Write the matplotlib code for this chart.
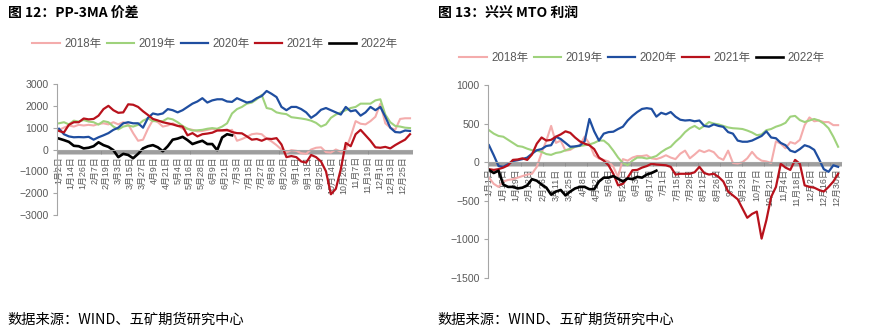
import numpy as np
import matplotlib
matplotlib.use("Agg")
import matplotlib.pyplot as plt
from matplotlib.ticker import MultipleLocator, FixedLocator

plt.rcParams['font.family'] = ['Liberation Sans', 'Noto Sans CJK SC']

# ---------------- data: chart 12 (PP-3MA spread), sampled every 5 trading days ----------------
step_l = 5
l_2018 = [900, 1000, 1100, 1050, 1130, 1100, 1130, 1100, 1170, 1200, 1150, 1250, 1150, 1250, 1150, 750,
          400, 450, 950, 1350, 1250, 1050, 1100, 1200, 1100, 950, 950, 900, 830, 850, 900, 950,
          880, 850, 850, 900, 400, 480, 580, 700, 730, 700, 500, 370, 200, 0, -130, -30,
          -60, -170, -200, 0, 80, 100, -120, -140, 0, -100, 0, 600, 1300, 1180, 1150, 1300,
          1500, 2100, 1200, 1000, 900, 1400, 1430, 1430]
l_2019 = [1200, 1250, 1150, 1320, 1280, 1350, 1280, 1250, 1140, 1300, 1250, 1050, 920, 1050, 1100, 1050,
          1130, 1320, 1430, 1300, 1300, 1300, 1430, 1380, 1250, 1080, 950, 870, 880, 900, 950, 980,
          950, 1050, 1200, 1650, 1850, 1950, 2100, 2150, 2300, 2500, 1900, 1850, 1700, 1650, 1620, 1480,
          1450, 1420, 1380, 1320, 1220, 1050, 1150, 1450, 1600, 1700, 1800, 1900, 1950, 2100, 2100, 2100,
          2250, 2300, 1600, 1250, 1080, 1050, 1000, 980]
l_2020 = [950, 700, 600, 560, 570, 560, 580, 450, 560, 650, 750, 900, 1000, 1200, 1250, 1200,
          1200, 1000, 1450, 1650, 1600, 1650, 1850, 1800, 1700, 1800, 1950, 2100, 2200, 2350, 2150, 2250,
          2300, 2300, 2200, 2180, 2350, 2250, 2150, 2200, 2350, 2450, 2680, 2550, 2400, 1950, 1800, 1950,
          1950, 1850, 1700, 1450, 1600, 1820, 1900, 1800, 1700, 1600, 1950, 1750, 1800, 1550, 1700, 1950,
          1800, 1950, 1500, 1000, 800, 780, 870, 850]
l_2021 = [850, 780, 1130, 1250, 1250, 1420, 1380, 1400, 1550, 1850, 2000, 1800, 1680, 1700, 2070, 2050,
          1950, 1750, 1580, 1400, 1330, 1250, 1200, 1150, 1080, 1050, 650, 750, 600, 700, 730, 770,
          870, 880, 900, 800, 750, 740, 600, 450, 480, 400, 500, 480, 520, 230, -350, -300,
          -350, -550, -600, -250, -350, -550, -1000, -2050, -1800, -900, 300, 150, 700, 900, 650, 400,
          100, 80, 120, 50, 200, 330, 450, 700]
l_2022 = [500, 430, 350, 170, 150, 50, 80, 150, 330, 200, 120, -30, -350, -200, -250, -400,
          -200, 50, 150, 200, 100, -80, 150, 450, 500, 580, 430, 250, 330, 400, 250, 250,
          -30, 550, 700, 650]
l_ticklabels = ['1月2日', '1月14日', '1月26日', '2月7日', '2月19日', '3月3日', '3月15日', '3月27日',
                '4月9日', '4月21日', '5月4日', '5月16日', '5月28日', '6月9日', '6月21日', '7月3日',
                '7月15日', '7月27日', '8月8日', '8月20日', '9月1日', '9月13日', '9月25日', '10月14日',
                '10月26日', '11月7日', '11月19日', '12月1日', '12月13日', '12月25日']
l_tick_every = 12

# ---------------- data: chart 13 (Xingxing MTO profit), sampled every 5 days ----------------
step_r = 5
r_2018 = [-200, -280, -320, -250, -230, -220, -200, -180, -160, -150, -60, 120, 280, 470, 250, 280,
          150, 160, 200, 220, 330, 240, 90, 47, 30, 10, -60, -190, 40, 20, 60, 80,
          80, 90, 50, 40, 60, 90, 60, 40, 110, 150, 50, 100, 155, 130, 155, 130,
          60, 30, 150, -10, -17, 0, 50, 134, 60, 20, 10, -10, 270, 240, 180, 260,
          240, 290, 480, 580, 530, 540, 520, 520, 480, 480]
r_2019 = [415, 370, 340, 330, 290, 250, 210, 200, 175, 155, 150, 134, 105, 95, 120, 130,
          155, 175, 200, 210, 220, 230, 250, 280, 280, 230, 150, 60, -10, -40, 20, 60,
          60, 47, 60, 80, 130, 170, 200, 265, 320, 390, 440, 470, 430, 470, 520, 500,
          490, 470, 450, 440, 436, 430, 410, 385, 350, 360, 415, 430, 460, 480, 510, 590,
          600, 545, 520, 540, 560, 540, 500, 440, 330, 200]
r_2020 = [220, 90, -50, -60, -25, 15, 26, 40, 60, 110, 155, 170, 210, 220, 330, 300,
          250, 200, 205, 215, 270, 560, 400, 280, 370, 390, 395, 430, 460, 540, 600, 650,
          690, 700, 690, 590, 640, 620, 650, 590, 550, 540, 545, 530, 540, 470, 460, 490,
          470, 458, 390, 370, 280, 265, 265, 280, 310, 340, 400, 320, 310, 250, 220, 150,
          130, 170, 220, 200, 160, 40, -90, -125, -40, -60]
r_2021 = [-90, -100, -90, -70, -40, 30, 35, 50, 30, 100, 240, 320, 280, 290, 330, 360,
          400, 380, 320, 270, 240, 220, 170, 60, 20, -40, -150, -300, -280, -200, -104, -100,
          -70, -50, -20, -30, -35, -40, -60, -160, -150, -150, -150, -130, -60, -140, -160, -150,
          -190, -250, -380, -430, -480, -600, -720, -670, -640, -990, -750, -450, -320, -20, -70, -100,
          30, -20, -300, -320, -330, -360, -380, -320, -250, -150]
r_2022 = [-100, -140, -110, -290, -320, -320, -340, -330, -300, -220, -240, -290, -330, -420, -380, -360,
          -430, -380, -340, -320, -320, -350, -350, -250, -200, -200, -180, -215, -250, -210, -220, -190,
          -200, -160, -140, -110]
r_ticklabels = ['1月1日', '1月15日', '1月29日', '2月12日', '2月26日', '3月11日', '3月25日', '4月8日',
                '4月22日', '5月6日', '5月20日', '6月3日', '6月17日', '7月1日', '7月15日', '7月29日',
                '8月12日', '8月26日', '9月9日', '9月23日', '10月7日', '10月21日', '11月4日', '11月18日',
                '12月2日', '12月16日', '12月30日']
r_tick_every = 14

years = ['2018年', '2019年', '2020年', '2021年', '2022年']
colors = ['#f4acac', '#9fd27c', '#1f4ea0', '#b8121c', '#000000']
widths = [1.5, 1.5, 1.6, 1.6, 1.9]

GRAY = '#595959'
AXC = '#a6a6a6'
TICKC = '#8c8c8c'

W, H = 872, 336
fig = plt.figure(figsize=(W / 100, H / 100), dpi=100)


def frac_box(x0, x1, ytop, ybot):
    return [x0 / W, 1 - ybot / H, (x1 - x0) / W, (ybot - ytop) / H]


def setup(ax, series, step, ticklabels, every, ylim, ystep, xlim):
    for vals, c, lw, lab in zip(series, colors, widths, years):
        x = np.arange(len(vals)) * step
        ax.plot(x, vals, color=c, lw=lw, label=lab, solid_joinstyle='round')
    ax.set_xlim(*xlim)
    ax.set_ylim(*ylim)
    ax.yaxis.set_major_locator(MultipleLocator(ystep))
    ax.spines['top'].set_visible(False)
    ax.spines['right'].set_visible(False)
    ax.spines['left'].set_color(AXC)
    ax.spines['left'].set_linewidth(0.8)
    ax.spines['bottom'].set_position(('data', 0))
    ax.spines['bottom'].set_color(AXC)
    ax.spines['bottom'].set_linewidth(0.8)
    pos = np.arange(len(ticklabels)) * every
    ax.xaxis.set_major_locator(FixedLocator(pos))
    ax.set_xticklabels(ticklabels, rotation=90, fontsize=6.4, color=GRAY)
    ax.xaxis.set_minor_locator(MultipleLocator(1))
    ax.tick_params(axis='x', which='both', direction='out', length=3.2, width=0.6,
                   color=TICKC, pad=1.5)
    ax.tick_params(axis='y', direction='out', length=3, width=0.8, color=AXC,
                   labelsize=7.6, labelcolor=GRAY, pad=3)
    for t in ax.get_yticklabels():
        t.set_color(GRAY)


axL = fig.add_axes(frac_box(57, 412, 84, 215))
setup(axL, [l_2018, l_2019, l_2020, l_2021, l_2022], step_l, l_ticklabels, l_tick_every,
      (-3000, 3000), 1000, (-2, 357))

axR = fig.add_axes(frac_box(488, 841, 85, 278))
setup(axR, [r_2018, r_2019, r_2020, r_2021, r_2022], step_r, r_ticklabels, r_tick_every,
      (-1500, 1000), 500, (-1, 368))

for ax, cx, cy in [(axL, 215, 44), (axR, 642, 58)]:
    h, l = ax.get_legend_handles_labels()
    fig.legend(h, l, loc='center', bbox_to_anchor=(cx / W, 1 - cy / H), ncol=5, frameon=False,
               fontsize=8.3, handlelength=2.4, handletextpad=0.35, columnspacing=0.45,
               borderaxespad=0, borderpad=0, labelcolor=GRAY)

fig.text(8 / W, 1 - 13 / H, '图 12：PP-3MA 价差', fontsize=10, fontweight='bold',
         family=['Noto Sans CJK SC'], va='center', ha='left')
fig.text(438 / W, 1 - 13 / H, '图 13：兴兴 MTO 利润', fontsize=10, fontweight='bold',
         family=['Noto Sans CJK SC'], va='center', ha='left')
fig.text(7 / W, 1 - 320 / H, '数据来源：WIND、五矿期货研究中心', fontsize=10.3,
         family=['Noto Sans CJK SC'], va='center', ha='left')
fig.text(437 / W, 1 - 320 / H, '数据来源：WIND、五矿期货研究中心', fontsize=10.3,
         family=['Noto Sans CJK SC'], va='center', ha='left')

fig.savefig('out.png', dpi=100)
